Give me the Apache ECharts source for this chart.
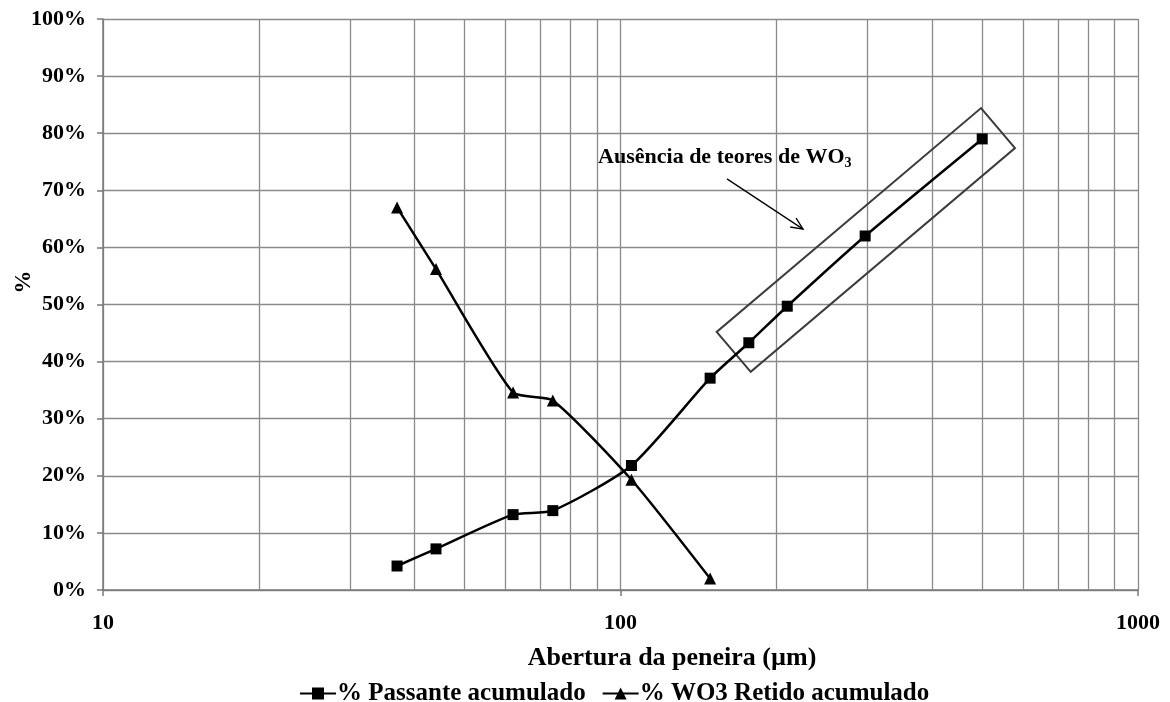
<!DOCTYPE html>
<html>
<head>
<meta charset="utf-8">
<script src="https://cdn.jsdelivr.net/npm/echarts@6/dist/echarts.min.js"></script>
<style>
html,body{margin:0;padding:0;background:#fff;}
#chart{width:1170px;height:702px;}
</style>
</head>
<body>
<div id="chart"></div>
<script>
var yTicks = [0,10,20,30,40,50,60,70,80,90,100];
var xMajor = [10,100,1000];
var minorGrid = [20,30,40,50,60,70,80,90,200,300,400,500,600,700,800,900];

var passX = [37,44,62,74,105,149,177,210,297,500];
var passY = [4.2,7.2,13.2,13.9,21.8,37.1,43.3,49.7,62.0,79.0];
var wo3X = [37,44,62,74,105,149];
var wo3Y = [67.0,56.2,34.6,33.2,19.3,2.0];

var seriesNames = ['% Passante acumulado','% WO3 Retido acumulado'];
var xTitle = 'Abertura da peneira (µm)';
var yTitle = '%';
var noteText = 'Ausência de teores de WO';
var noteSub = '3';
// annotation anchors in data space
var noteAnchor = [90.5, 75.8];
var arrowFrom = [160.6, 72.0];
var arrowTo = [225.3, 63.2];
var boxCorners = [[153.4,45.2],[178.5,38.2],[578.5,77.4],[497.4,84.4]];

function pairs(xs, ys){ return xs.map(function(x,i){ return [x, ys[i]]; }); }

var FONT = '"Liberation Serif", "Times New Roman", serif';
var GRID = '#8a8a8a';

var chart = echarts.init(document.getElementById('chart'), null, {renderer:'canvas'});
var option = {
  animation:false,
  backgroundColor:'#fff',
  grid:{left:103, right:32, top:19, bottom:112, containLabel:false},
  title:{
    text:xTitle, left:667, top:640, textAlign:'center',
    textStyle:{fontFamily:FONT, fontWeight:'bold', fontSize:26, color:'#000'}
  },
  legend:{
    data:seriesNames, left:294, top:676, itemWidth:36, itemHeight:15, itemGap:16,
    formatter:function(n){ return '{b|' + n + '}'; },
    textStyle:{fontFamily:FONT, fontWeight:'bold', fontSize:25, color:'#000', padding:[0,0,0,-4],
      rich:{b:{fontFamily:FONT, fontWeight:'bold', fontSize:25, color:'#000'}}}
  },
  xAxis:{
    type:'log', logBase:10, min:10, max:1000,
    axisLine:{lineStyle:{color:'#7a7a7a', width:1.5}},
    axisTick:{show:true, length:6, lineStyle:{color:'#7a7a7a', width:1.5}},
    axisLabel:{margin:22, fontFamily:FONT, fontWeight:'bold', fontSize:22, color:'#000',
      formatter:function(v){ return String(Math.round(v)); }},
    splitLine:{show:true, lineStyle:{color:GRID, width:1.3}}
  },
  yAxis:{
    type:'value', min:0, max:100, interval:10,
    axisLine:{show:true, lineStyle:{color:'#7a7a7a', width:1.5}},
    axisTick:{show:true, length:6, lineStyle:{color:'#7a7a7a', width:1.5}},
    axisLabel:{margin:17, fontFamily:FONT, fontWeight:'bold', fontSize:22, color:'#000',
      formatter:function(v){ return v + '%'; }},
    splitLine:{show:true, lineStyle:{color:GRID, width:1.3}}
  },
  series:[
    {
      name:seriesNames[0], type:'line', data:pairs(passX, passY),
      smooth:0.22, symbol:'rect', symbolSize:11,
      lineStyle:{color:'#000', width:2.5}, itemStyle:{color:'#000'},
      z:5,
      markLine:{
        silent:true, symbol:['none','none'], label:{show:false},
        lineStyle:{color:GRID, width:1.3, type:'solid'},
        data:minorGrid.map(function(v){ return {xAxis:v}; }),
        z:1
      }
    },
    {
      name:seriesNames[1], type:'line', data:pairs(wo3X, wo3Y),
      smooth:0.2, symbol:'triangle', symbolSize:12,
      lineStyle:{color:'#000', width:2.5}, itemStyle:{color:'#000'},
      z:5
    }
  ]
};
chart.setOption(option);

function px(p){ return chart.convertToPixel({gridIndex:0}, p); }
var a0 = px(arrowFrom), a1 = px(arrowTo);
var dx = a1[0]-a0[0], dy = a1[1]-a0[1], L = Math.sqrt(dx*dx+dy*dy);
var ux = dx/L, uy = dy/L, hl = 13, ang = 0.42;
function rot(x,y,t){ return [x*Math.cos(t)-y*Math.sin(t), x*Math.sin(t)+y*Math.cos(t)]; }
var h1 = rot(-ux*hl, -uy*hl, ang), h2 = rot(-ux*hl, -uy*hl, -ang);
var np = px(noteAnchor);
var box = boxCorners.map(px);

chart.setOption({
  graphic:[
    {type:'text', z:10, x:24, y:282, rotation:Math.PI/2,
      style:{text:yTitle, font:'bold 23px '+FONT, fill:'#000', align:'center', verticalAlign:'middle'}},
    {type:'polygon', z:4, shape:{points:box}, style:{fill:'none', stroke:'#3c3c3c', lineWidth:2}},
    {type:'line', z:6, shape:{x1:a0[0], y1:a0[1], x2:a1[0], y2:a1[1]}, style:{stroke:'#000', lineWidth:1.3}},
    {type:'polyline', z:6, shape:{points:[[a1[0]+h1[0], a1[1]+h1[1]], a1, [a1[0]+h2[0], a1[1]+h2[1]]]},
      style:{stroke:'#000', lineWidth:1.3, fill:'none'}},
    {type:'text', z:7, x:np[0], y:np[1],
      style:{
        text:'{a|'+noteText+'}{s|'+noteSub+'}',
        rich:{
          a:{font:'bold 22px '+FONT, fill:'#000'},
          s:{font:'bold 14px '+FONT, fill:'#000', padding:[12,0,0,0]}
        },
        verticalAlign:'middle', align:'left', fill:'#000'
      }}
  ]
});
</script>
</body>
</html>
